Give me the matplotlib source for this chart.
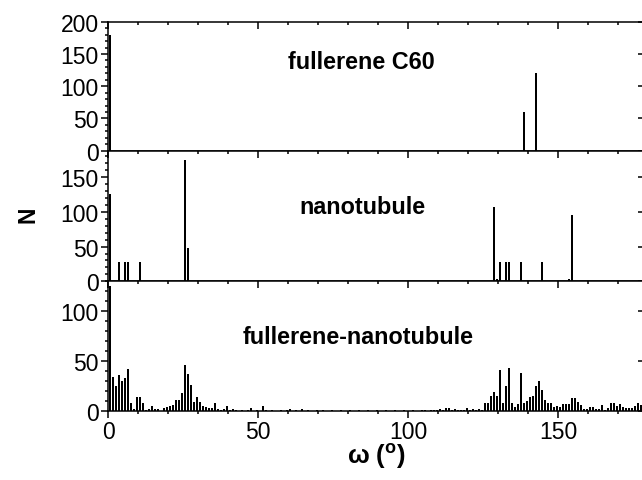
import matplotlib
matplotlib.use('Agg')
import matplotlib.pyplot as plt
from matplotlib.ticker import MultipleLocator

####################################################
# Data (angle bins in degrees, counts N)
####################################################
c60_bins = [0, 138, 142]
c60_counts = [180, 60, 120]

tube_bins = [0, 3, 5, 6, 10, 25, 26, 128, 129, 130, 132, 133, 137, 144, 153, 154]
tube_counts = [125, 28, 28, 28, 28, 175, 48, 107, 4, 28, 28, 28, 28, 28, 3, 95]

hybrid_counts = [
    125, 34, 25, 36, 30, 33, 42, 8, 2, 14,    # 0-9
    14, 8, 1, 2, 5, 2, 2, 0, 3, 4,            # 10-19
    5, 6, 11, 11, 18, 46, 37, 26, 9, 14,      # 20-29
    9, 5, 4, 3, 3, 8, 2, 1, 2, 5,             # 30-39
    1, 2, 1, 0, 1, 0, 1, 3, 0, 1,             # 40-49
    0, 5, 1, 0, 1, 0, 0, 1, 0, 1,             # 50-59
    2, 0, 1, 0, 2, 0, 1, 0, 0, 1,             # 60-69
    0, 1, 0, 0, 1, 0, 0, 1, 0, 0,             # 70-79
    1, 0, 0, 1, 0, 0, 1, 0, 0, 1,             # 80-89
    0, 0, 1, 0, 0, 1, 0, 0, 1, 0,             # 90-99
    0, 1, 0, 0, 1, 1, 0, 1, 1, 1,             # 100-109
    2, 1, 3, 3, 1, 2, 1, 1, 1, 3,             # 110-119
    1, 2, 1, 2, 1, 8, 8, 15, 19, 15,          # 120-129
    41, 8, 25, 43, 8, 4, 7, 38, 8, 10,        # 130-139
    14, 15, 25, 30, 21, 11, 8, 8, 4, 5,       # 140-149
    4, 7, 7, 7, 13, 13, 9, 6, 2, 2,           # 150-159
    4, 4, 2, 2, 6, 1, 3, 8, 8, 5,             # 160-169
    7, 4, 3, 3, 3, 5, 8, 6,                   # 170-177
]
hybrid_bins = list(range(len(hybrid_counts)))

labels = ['fullerene C60', 'nanotubule', 'fullerene-nanotubule']
ylims = [200, 188, 130]

####################################################
# Style
####################################################
plt.rcParams['font.family'] = ['Liberation Sans', 'DejaVu Sans']
plt.rcParams['mathtext.fontset'] = 'custom'
plt.rcParams['mathtext.rm'] = 'Liberation Sans'
plt.rcParams['mathtext.bf'] = 'Liberation Sans:bold'

fig = plt.figure(figsize=(6.42, 4.81), dpi=100)

left, width = 108.3 / 642, 537 / 642
edges = [22.7, 151.7, 282.3, 411.7]

series = [(c60_bins, c60_counts), (tube_bins, tube_counts), (hybrid_bins, hybrid_counts)]
text_pos = [(0.4706, 0.641), (0.4724, 0.523), (0.465, 0.523)]


def set_locators(a):
    a.xaxis.set_major_locator(MultipleLocator(50))
    a.xaxis.set_minor_locator(MultipleLocator(10))
    a.yaxis.set_major_locator(MultipleLocator(50))
    a.yaxis.set_minor_locator(MultipleLocator(10))


axes = []
for i, (bins, counts) in enumerate(series):
    top = 1 - edges[i] / 481
    bot = 1 - edges[i + 1] / 481
    ax = fig.add_axes([left, bot, width, top - bot])
    axes.append(ax)

    x = [b + 0.5 for b in bins]
    ax.bar(x, counts, width=0.55, color='black', linewidth=0)

    ax.set_xlim(0, 179)
    ax.set_ylim(0, ylims[i])
    set_locators(ax)

    for s in ax.spines.values():
        s.set_linewidth(1.1)

    ax.tick_params(which='both', direction='out', width=1.1)
    ax.tick_params(which='major', length=5)
    ax.tick_params(which='minor', length=2.5)
    ax.tick_params(axis='x', labelsize=16.5, pad=1.5)
    ax.tick_params(axis='y', labelsize=16.5, pad=2)
    if i < 2:
        ax.tick_params(axis='x', labelbottom=False)

    # Origin-style mirrored ticks on top and right, pointing inward
    axr = ax.twinx()
    axr.set_ylim(ax.get_ylim())
    axt = ax.twiny()
    axt.set_xlim(ax.get_xlim())
    for a in (axr, axt):
        set_locators(a)
        a.tick_params(which='both', direction='in', width=1.1,
                      labelright=False, labeltop=False)
        a.tick_params(which='major', length=5)
        a.tick_params(which='minor', length=2.5)
        for s in a.spines.values():
            s.set_visible(False)

    ax.text(text_pos[i][0], text_pos[i][1], labels[i], transform=ax.transAxes,
            ha='center', va='baseline', fontsize=16.8, fontweight='bold')

axes[2].set_xlabel(r'ω ($\mathbf{^{o}}$)', fontsize=18.5, fontweight='bold', labelpad=-1)
fig.text(28 / 642, 1 - 215 / 481, 'N', rotation=90, ha='center', va='center',
         fontsize=16.5, fontweight='bold')

plt.savefig('out.png', dpi=100)
